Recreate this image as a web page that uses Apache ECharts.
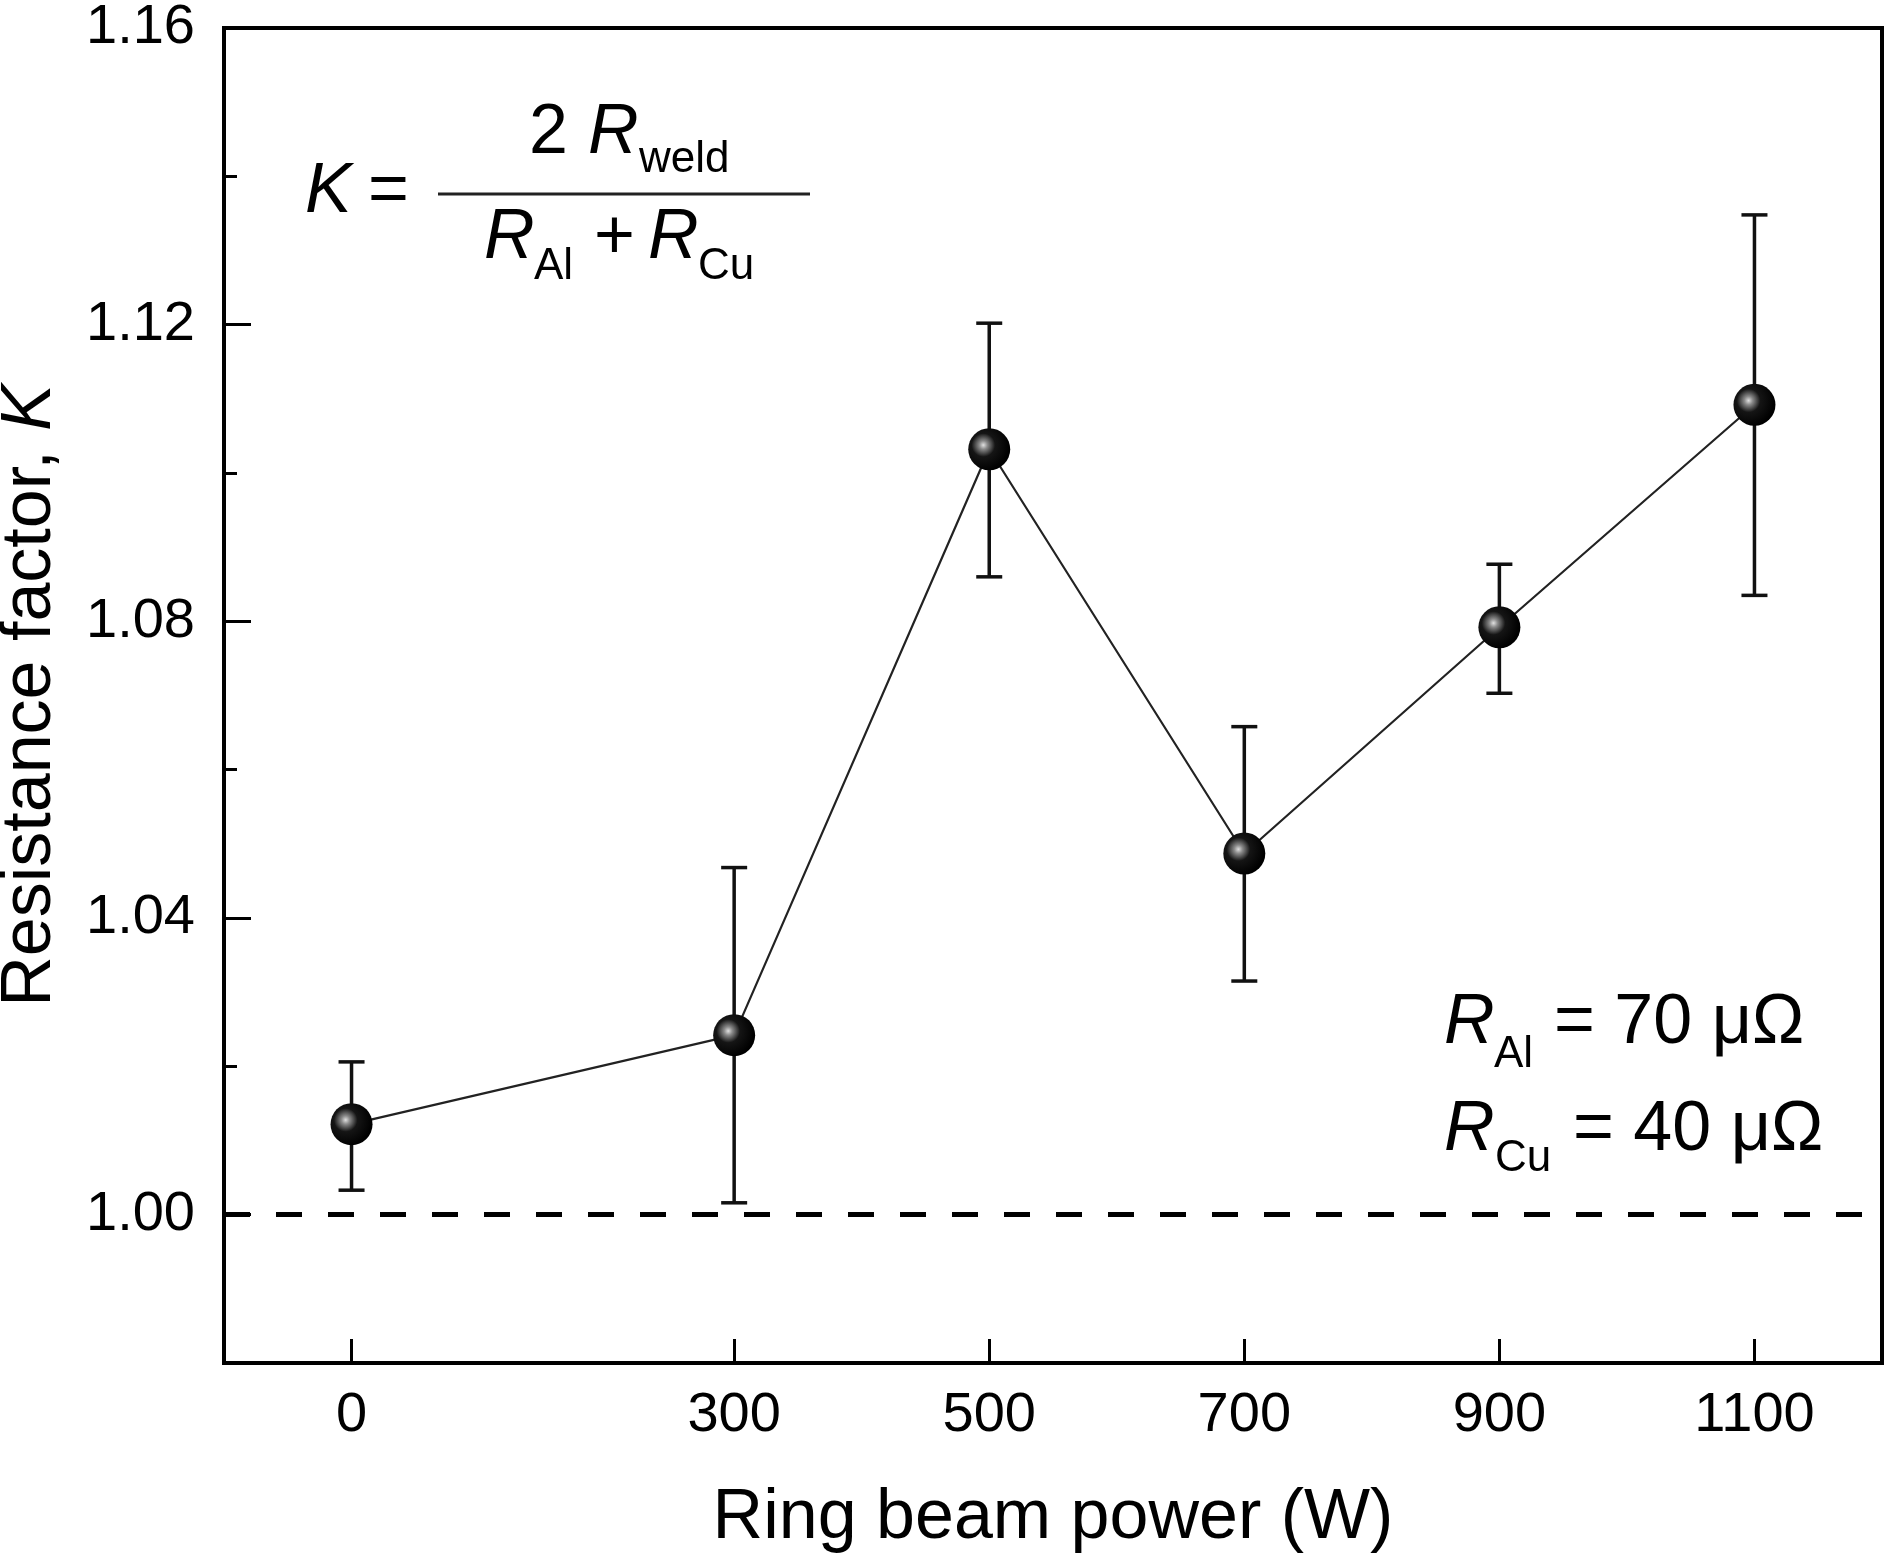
<!DOCTYPE html>
<html>
<head>
<meta charset="utf-8">
<script src="https://cdn.jsdelivr.net/npm/echarts@6/dist/echarts.min.js"></script>
<style>
  html, body { margin: 0; padding: 0; background: #fff; }
  #chart { width: 1888px; height: 1558px; }
</style>
</head>
<body>
<div id="chart"></div>
<script>
// ---- data ----
const powers = [0, 300, 500, 700, 900, 1100];
const kValues = [1.0122, 1.0242, 1.1032, 1.0487, 1.0792, 1.1092];
const errLow = [1.0033, 1.0016, 1.0860, 1.0315, 1.0703, 1.0835];
const errHigh = [1.0206, 1.0468, 1.1202, 1.0658, 1.0877, 1.1348];
const xTicks = [0, 300, 500, 700, 900, 1100];
const yMajorTicks = [1.00, 1.04, 1.08, 1.12, 1.16];
const yMinorTicks = [1.02, 1.06, 1.10, 1.14];
const referenceK = 1.00;

const FONT = '"Liberation Sans", Arial, Helvetica, sans-serif';

const chart = echarts.init(document.getElementById('chart'), null, { renderer: 'canvas' });

const pointData = powers.map((p, i) => [p, kValues[i]]);
const errData = powers.map((p, i) => [p, errLow[i], errHigh[i]]);

function txt(text, x, baseline, size, italic) {
  return {
    type: 'text',
    x: x,
    y: baseline - 0.3465 * size,
    silent: true,
    style: {
      text: text,
      fontFamily: FONT,
      fontSize: size,
      fontStyle: italic ? 'italic' : 'normal',
      fill: '#000',
      align: 'left',
      verticalAlign: 'middle'
    }
  };
}

const option = {
  animation: false,
  backgroundColor: '#fff',
  grid: {
    left: 224, right: 6, top: 28, bottom: 195,
    show: true, borderColor: '#000', borderWidth: 4,
    outerBoundsMode: 'none'
  },
  xAxis: {
    type: 'value',
    min: -100, max: 1200,
    name: 'Ring beam power (W)',
    nameLocation: 'middle',
    nameGap: 121,
    nameTextStyle: { fontFamily: FONT, fontSize: 70, color: '#000' },
    axisLine: { show: true, onZero: false, lineStyle: { color: '#000', width: 4 } },
    axisTick: { show: true, inside: true, length: 24, customValues: xTicks, lineStyle: { color: '#000', width: 3 } },
    axisLabel: {
      customValues: xTicks, fontFamily: FONT, fontSize: 56, color: '#000', margin: 25,
      formatter: v => String(v)
    },
    splitLine: { show: false }
  },
  yAxis: [{
    type: 'value',
    min: 0.98, max: 1.16,
    name: 'Resistance factor, {i|K}',
    nameLocation: 'middle',
    nameGap: 158,
    nameRotate: 90,
    nameTextStyle: {
      fontFamily: FONT, fontSize: 70, color: '#000',
      rich: { i: { fontFamily: FONT, fontSize: 70, fontStyle: 'italic', color: '#000' } }
    },
    axisLine: { show: true, onZero: false, lineStyle: { color: '#000', width: 4 } },
    axisTick: { show: true, inside: true, length: 27, customValues: yMajorTicks, lineStyle: { color: '#000', width: 3 } },
    axisLabel: {
      customValues: yMajorTicks,
      fontFamily: FONT, fontSize: 56, color: '#000', margin: 29,
      formatter: v => Number(v).toFixed(2)
    },
    splitLine: { show: false }
  }, {
    type: 'value',
    min: 0.98, max: 1.16,
    position: 'left',
    axisLine: { show: false, onZero: false },
    axisTick: { show: true, inside: true, length: 13, customValues: yMinorTicks, lineStyle: { color: '#000', width: 3 } },
    axisLabel: { show: false },
    splitLine: { show: false }
  }],
  series: [
    {
      type: 'custom',
      z: 1,
      silent: true,
      data: errData,
      renderItem: function (params, api) {
        const x = api.value(0);
        const top = api.coord([x, api.value(2)]);
        const bot = api.coord([x, api.value(1)]);
        const hw = 13;
        const st = { stroke: '#111', lineWidth: 3.5 };
        return {
          type: 'group',
          children: [
            { type: 'line', shape: { x1: top[0], y1: top[1], x2: bot[0], y2: bot[1] }, style: st },
            { type: 'line', shape: { x1: top[0] - hw, y1: top[1], x2: top[0] + hw, y2: top[1] }, style: st },
            { type: 'line', shape: { x1: bot[0] - hw, y1: bot[1], x2: bot[0] + hw, y2: bot[1] }, style: st }
          ]
        };
      }
    },
    {
      type: 'line',
      z: 3,
      data: pointData,
      symbol: 'circle',
      symbolSize: 42,
      lineStyle: { color: '#222', width: 2.2 },
      itemStyle: {
        borderWidth: 0,
        color: {
          type: 'radial', x: 0.36, y: 0.4, r: 0.62,
          colorStops: [
            { offset: 0, color: '#e0e0e0' },
            { offset: 0.16, color: '#8a8a8a' },
            { offset: 0.45, color: '#151515' },
            { offset: 1, color: '#000' }
          ]
        }
      },
      markLine: {
        silent: true,
        symbol: ['none', 'none'],
        label: { show: false },
        lineStyle: { color: '#000', width: 5, type: [26, 26] },
        data: [{ yAxis: referenceK }]
      }
    }
  ],
  graphic: [
    // formula K = 2 R_weld / (R_Al + R_Cu)
    txt('K', 305, 217, 70, true),
    txt('=', 368, 217, 70, false),
    {
      type: 'line', silent: true,
      shape: { x1: 438, y1: 194, x2: 810, y2: 194 },
      style: { stroke: '#222', lineWidth: 3 }
    },
    txt('2', 529, 158, 70, false),
    txt('R', 588, 158, 70, true),
    txt('weld', 639, 175, 44, false),
    txt('R', 484, 263, 70, true),
    txt('Al', 534, 282, 44, false),
    txt('+', 594, 263, 70, false),
    txt('R', 648, 263, 70, true),
    txt('Cu', 698, 282, 44, false),
    // R_Al = 70 μΩ, R_Cu = 40 μΩ
    txt('R', 1444, 1048, 70, true),
    txt('Al', 1494, 1070, 44, false),
    txt('= 70 μΩ', 1554, 1048, 70, false),
    txt('R', 1444, 1155, 70, true),
    txt('Cu', 1495, 1174, 44, false),
    txt('= 40 μΩ', 1573, 1155, 70, false)
  ]
};

chart.setOption(option);
</script>
</body>
</html>
